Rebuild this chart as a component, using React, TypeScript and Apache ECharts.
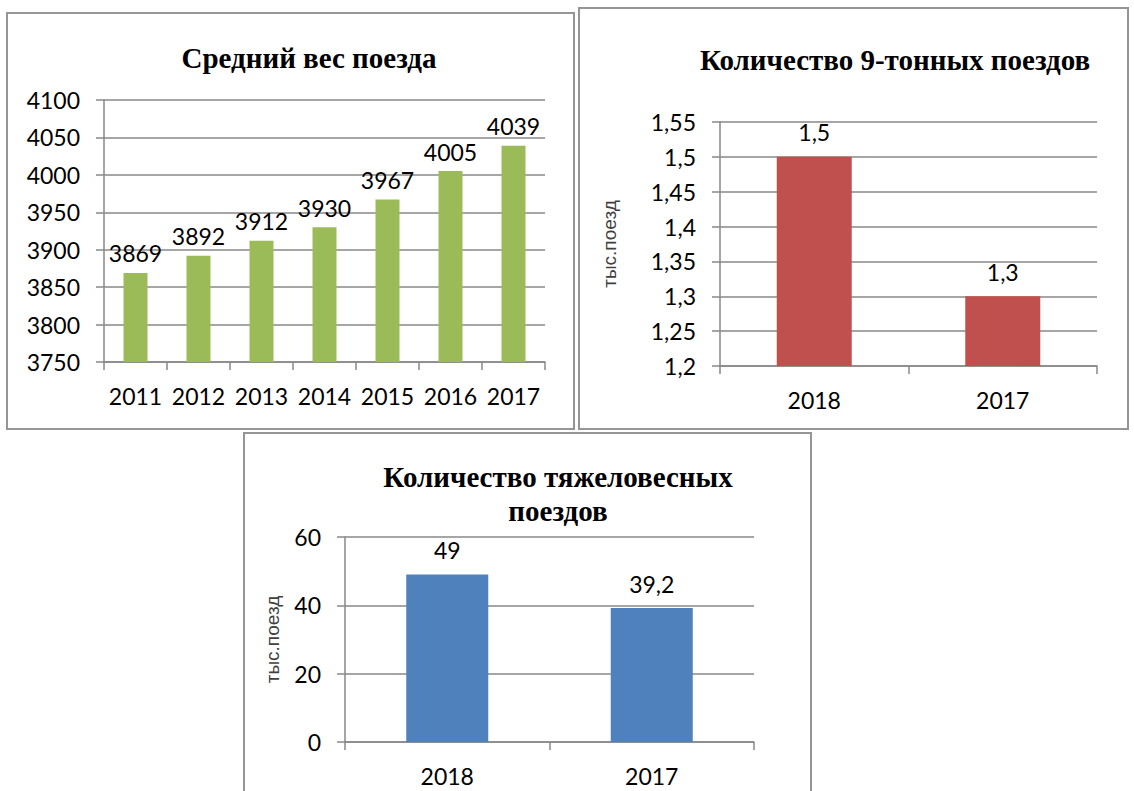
import React, { useEffect, useRef } from "react";
import * as echarts from "echarts";

const years1 = ["2011", "2012", "2013", "2014", "2015", "2016", "2017"];
const avgWeight = [3869, 3892, 3912, 3930, 3967, 4005, 4039];

const years2 = ["2018", "2017"];
const nineTon = [1.5, 1.3];

const years3 = ["2018", "2017"];
const heavy = [49, 39.2];

const title1 = "Средний вес поезда";
const title2 = "Количество 9-тонных поездов";
const title3 = "Количество тяжеловесных\nпоездов";
const yName = "тыс.поезд";

const FONT = "Lato, 'Noto Sans', sans-serif";
const TFONT = "'Liberation Serif', 'DejaVu Serif', serif";
const GRID_COLOR = "#888888";

const comma = (v: number) => String(Number(v.toFixed(2))).replace(".", ",");

function makeAxes(idx: number, cats: string[], min: number, max: number, interval: number, name?: string, nameGap?: number) {
  const x = {
    type: "category",
    gridIndex: idx,
    data: cats,
    axisLine: { show: true, lineStyle: { color: GRID_COLOR, width: 1.5 } },
    axisTick: { show: true, length: 8, lineStyle: { color: GRID_COLOR, width: 1.5 } },
    axisLabel: { color: "#000", fontFamily: FONT, fontSize: 23, margin: 22, interval: 0 },
  };
  const y: any = {
    type: "value",
    gridIndex: idx,
    min,
    max,
    interval,
    axisLine: { show: true, lineStyle: { color: GRID_COLOR, width: 1.5 } },
    axisTick: { show: true, length: 8, lineStyle: { color: GRID_COLOR, width: 1.5 } },
    splitLine: { show: true, lineStyle: { color: GRID_COLOR, width: 1.5 } },
    axisLabel: { color: "#000", fontFamily: FONT, fontSize: 23, margin: 24, formatter: comma },
  };
  if (name) {
    y.name = name;
    y.nameLocation = "middle";
    y.nameGap = nameGap;
    y.nameTextStyle = { color: "#404040", fontFamily: "'Liberation Sans', Arial, sans-serif", fontSize: 19 };
  }
  return { x, y };
}

export default function App() {
  const ref = useRef<HTMLDivElement>(null);
  useEffect(() => {
    if (!ref.current) return;
    const chart = echarts.init(ref.current, undefined, { renderer: "svg" });
    const a1 = makeAxes(0, years1, 3750, 4100, 50);
    const a2 = makeAxes(1, years2, 1.2, 1.55, 0.05, yName, 101);
    const a3 = makeAxes(2, years3, 0, 60, 20, yName, 63);
    const titleStyle = { fontFamily: TFONT, fontWeight: "bold", fontSize: 29, color: "#000", lineHeight: 34 };
    const labelStyle = (dist: number) => ({
      show: true,
      position: "top",
      distance: dist,
      color: "#000",
      fontFamily: FONT,
      fontSize: 23,
      formatter: (p: any) => comma(p.value),
    });
    chart.setOption({
      animation: false,
      backgroundColor: "#fff",
      title: [
        { text: title1, left: 304, top: 36, textAlign: "center", textStyle: titleStyle },
        { text: title2, left: 890, top: 38, textAlign: "center", textStyle: titleStyle },
        { text: title3, left: 553, top: 455, textAlign: "center", textStyle: titleStyle },
      ],
      graphic: [
        { type: "rect", shape: { x: 7, y: 13, width: 567, height: 416 }, style: { fill: "none", stroke: "#959595", lineWidth: 2 } },
        { type: "rect", shape: { x: 579, y: 8, width: 549, height: 421 }, style: { fill: "none", stroke: "#959595", lineWidth: 2 } },
        { type: "rect", shape: { x: 244, y: 433, width: 567, height: 380 }, style: { fill: "none", stroke: "#959595", lineWidth: 2 } },
      ],
      grid: [
        { left: 104, top: 100, right: 589, bottom: 429 },
        { left: 720, top: 122, right: 37, bottom: 425 },
        { left: 345, top: 537, right: 380, bottom: 49 },
      ],
      xAxis: [a1.x, a2.x, a3.x],
      yAxis: [a1.y, a2.y, a3.y],
      series: [
        {
          type: "bar",
          xAxisIndex: 0,
          yAxisIndex: 0,
          data: avgWeight,
          barWidth: 24,
          itemStyle: { color: "#9BBB59" },
          label: labelStyle(8),
        },
        {
          type: "bar",
          xAxisIndex: 1,
          yAxisIndex: 1,
          data: nineTon,
          barWidth: 75,
          itemStyle: { color: "#C0504D" },
          label: labelStyle(13),
        },
        {
          type: "bar",
          xAxisIndex: 2,
          yAxisIndex: 2,
          data: heavy,
          barWidth: 82,
          itemStyle: { color: "#4F81BD" },
          label: labelStyle(13),
        },
      ],
    });
    return () => chart.dispose();
  }, []);
  return <div ref={ref} style={{ position: "fixed", left: 0, top: 0, width: 1134, height: 791 }} />;
}
